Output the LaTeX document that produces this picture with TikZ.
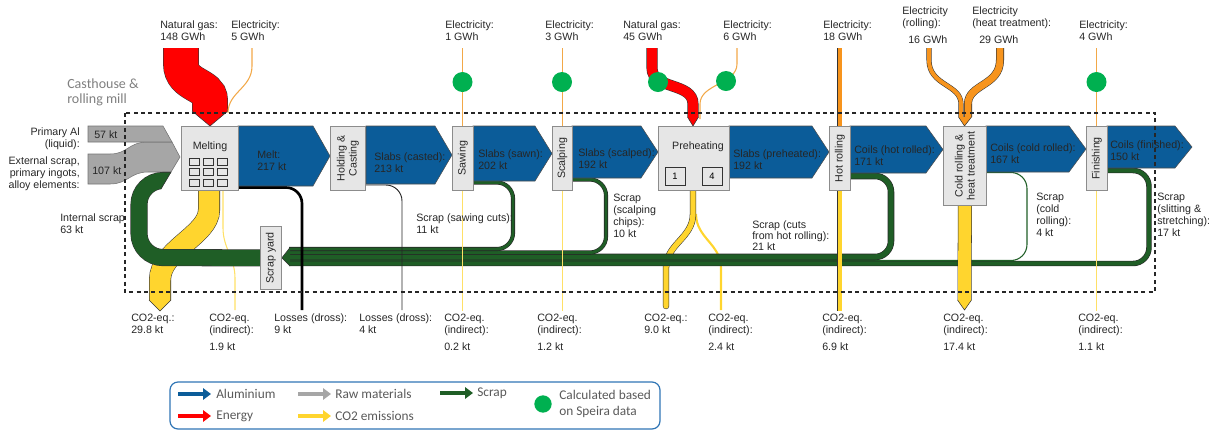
\documentclass[tikz,border=0pt]{standalone}
\usepackage{fontspec}
\setmainfont{Liberation Sans}
\newfontfamily\legfont{Carlito}
\usepackage{tikz}
\usetikzlibrary{arrows.meta}
\definecolor{alublue}{HTML}{0B5C99}
\definecolor{rawgray}{HTML}{A6A6A6}
\definecolor{scrapgreen}{HTML}{1F5E26}
\definecolor{energyred}{HTML}{FF0000}
\definecolor{elorange}{HTML}{F7941D}
\definecolor{elthinc}{HTML}{F2A848}
\definecolor{co2yellow}{HTML}{FFD52E}
\definecolor{co2thinc}{HTML}{FFE066}
\definecolor{dotgreen}{HTML}{00B050}
\definecolor{boxfill}{HTML}{E6E6E6}
\definecolor{boxline}{HTML}{8C8C8C}
\definecolor{legblue}{HTML}{2F75B5}
\definecolor{legtext}{HTML}{595959}
\definecolor{casttext}{HTML}{7F7F7F}
\pgfdeclarelayer{bg}
\pgfsetlayers{bg,main}
\newcommand{\lbf}{\fontsize{8}{9}\selectfont}
\newcommand{\alarrow}[3]{\filldraw[alu] (#1,126) -- (#2-17,126) -- (#2,126+#3/2) -- (#2-17,126+#3) -- (#1,126+#3) -- cycle;}
\newcommand{\indlbl}[3]{\node[lbl] (#1a) at (#2,313.5) {CO2-eq.\\(indirect):};
  \node[lbl] (#1b) at (#2,342.5) {#3};}

\begin{document}
\begin{tikzpicture}[x=0.75pt,y=-0.75pt,
  proc/.style={draw=boxline, fill=boxfill, line width=0.6pt, inner sep=0pt, anchor=north west},
  lbl/.style={font=\lbf, text=black!85, align=left, inner sep=0pt, anchor=north west},
  boxtxt/.style={font=\lbf, text=black!85, align=center, inner sep=0pt},
  alu/.style={fill=alublue, draw=black!70, line width=0.4pt},
  raw/.style={fill=rawgray, draw=black!55, line width=0.4pt},
  flow/.style={draw=black!80, line width=0.4pt, double=#1},
  scrap/.style={draw=black!85, line width=0.45pt, double=scrapgreen, rounded corners=12pt},
  edge/.style={draw=black!80, line width=0.4pt},
  elthin/.style={elthinc, line width=0.8pt},
  co2thin/.style={co2thinc, line width=0.8pt},
  legarr/.style={line width=3pt, -{Triangle[length=6pt,width=8.5pt]}},
  legtxt/.style={font=\legfont\fontsize{10}{12}\selectfont, text=legtext, inner sep=0pt}]
\useasboundingbox (0,0) rectangle (1215,430);

% process boxes
\node[proc, minimum width=42.75pt, minimum height=48pt] (melt) at (181,126) {};
\node[proc, minimum width=26.25pt, minimum height=48pt] (hold) at (330,126) {};
\node[proc, minimum width=15.75pt, minimum height=48pt] (saw) at (452,126) {};
\node[proc, minimum width=15pt, minimum height=48pt] (scalp) at (552,126) {};
\node[proc, minimum width=53.25pt, minimum height=48pt] (preh) at (658,126) {};
\node[proc, minimum width=15.75pt, minimum height=48pt] (hot) at (829,126) {};
\node[proc, minimum width=32.25pt, minimum height=59.25pt] (cold) at (943,126) {};
\node[proc, minimum width=15.75pt, minimum height=48pt] (fin) at (1086,126) {};
\node[proc, minimum width=15.75pt, minimum height=47.25pt] (yard) at (260,226) {};

\node[boxtxt] (tMelt) at (210,147) {Melting};
\foreach \i in {0,1,2} \foreach \j in {0,1,2}
  \draw[black!80, line width=0.5pt] (189+14*\i,158+10.5*\j) rectangle ++(10,7);
\node[boxtxt, rotate=90] (tHold) at (hold.center) {Holding \&\\Casting};
\node[boxtxt, rotate=90] (tSaw) at (saw.center) {Sawing};
\node[boxtxt, rotate=90] (tScalp) at (scalp.center) {Scalping};
\node[boxtxt] (tPreh) at (698,147) {Preheating};
\node[draw=black!80, fill=boxfill, minimum width=15pt, minimum height=13.5pt, inner sep=0pt, font=\fontsize{7}{8}\selectfont] (ph1) at (675,176) {1};
\node[draw=black!80, fill=boxfill, minimum width=15pt, minimum height=13.5pt, inner sep=0pt, font=\fontsize{7}{8}\selectfont] (ph4) at (712,176) {4};
\node[boxtxt, rotate=90] (tHot) at (hot.center) {Hot rolling};
\node[boxtxt, rotate=90] (tCold) at (cold.center) {Cold rolling \&\\heat treatment};
\node[boxtxt, rotate=90] (tFin) at (fin.center) {Finishing};
\node[boxtxt, rotate=90] (tYard) at (yard.center) {Scrap yard};

\begin{pgfonlayer}{bg}
% CO2 flows
\draw[flow=co2yellow, double distance=15.7pt] (209,190) -- (209,210) .. controls (209,235) and (160,250) .. (160,280) -- (160,300);
\fill[co2yellow] (149,300) -- (160,311) -- (171,300) -- cycle;
\draw[edge] (149,300) -- (160,311) -- (171,300);
\draw[co2thin] (223,190) -- (223,228) .. controls (223,248) and (235,258) .. (235,278) -- (235,310);
\draw[co2yellow, line width=1.6pt] (696,214) .. controls (696,238) and (721,244) .. (721,268) -- (721,310);
\draw[flow=co2yellow, double distance=4pt, line cap=round] (693,190) -- (693,214) .. controls (693,238) and (666,244) .. (666,268) -- (666,306);

% raw materials
\filldraw[raw] (88,154) -- (110,154) .. controls (128,154) and (128,142) .. (148,142) -- (172,142) -- (180,157) -- (171,172) -- (148,172) .. controls (130,172) and (128,184) .. (110,184) -- (88,184) -- cycle;
\filldraw[raw] (88,126) -- (163,126) -- (172,142) -- (88,142) -- cycle;

% internal scrap
\begin{scope}
  \clip (0,100) -- (168,100) -- (180,157) -- (161,189) -- (161,205) -- (420,205) -- (420,430) -- (0,430) -- cycle;
  \draw[flow=scrapgreen, double distance=12pt, rounded corners=18pt] (yard.west) -- (139,257.5) -- (139,180.5) -- (178,180.5);
\end{scope}
\draw[edge] (171.1,172) -- (161,189);

% scrap returns
\draw[scrap, double distance=3.2pt] (1107,170.5) -- (1149,170.5) -- (1149,263.5) -- (289,263.5);
\draw[scrapgreen, line width=0.8pt, rounded corners=12pt] (986,172.5) -- (1027,172.5) -- (1027,260.5) -- (289,260.5);
\draw[scrap, double distance=4pt] (850,176) -- (891,176) -- (891,257) -- (289,257);
\draw[scrap, double distance=2.2pt] (572,179.5) -- (606,179.5) -- (606,252.5) -- (289,252.5);
\draw[scrap, double distance=2.2pt] (473,182.5) -- (513,182.5) -- (513,249) -- (289,249);
\fill[scrapgreen] (290,247.5) -- (yard.east) -- (290,266) -- cycle;
\draw[edge] (290,247.5) -- (yard.east) -- (290,266);

% thin and single CO2 lines
\draw[co2thin] (saw.south) -- ++(0,120);
\draw[co2thin] (scalp.south) -- ++(0,120);
\draw[co2thin] (fin.south) -- ++(0,120);
\draw[flow=co2yellow, double distance=3pt] (hot.south) -- ++(0,120);
\draw[flow=co2yellow, double distance=9.7pt] (cold.south) -- (964.5,300);
\fill[co2yellow] (957.5,300) -- (964.5,310) -- (971.5,300) -- cycle;
\draw[edge] (957.5,300) -- (964.5,310) -- (971.5,300);

% losses
\draw[black, line width=2pt, rounded corners=12pt] (238,187.5) -- (302,187.5) -- (302,310);
\draw[black!85, line width=0.7pt, rounded corners=12pt] (366,185) -- (402,185) -- (402,310);

% aluminium
\alarrow{238}{330}{60}
\alarrow{366}{452}{58}
\alarrow{473}{552}{55}
\alarrow{572}{658}{52}
\alarrow{729}{829}{52}
\alarrow{850}{943}{47}
\alarrow{986}{1086}{46}
\alarrow{1107}{1192}{42}

% energy
\draw[flow=energyred, double distance=26pt] (181,48) -- (181,64) .. controls (181,86) and (210,84) .. (210,100) -- (210,111);
\fill[energyred] (192.1,111) -- (210,126) -- (227.9,111) -- cycle;
\draw[edge] (192.1,111) -- (210,126) -- (227.9,111);
\draw[elthin] (252,48) -- (252,66) .. controls (252,88) and (228,92) .. (228,113);
\draw[elthin] (737,48) -- (737,64) .. controls (737,84) and (700,84) .. (700,104) -- (700,119);
\draw[flow=energyred, double distance=7.5pt] (652,48) -- (652,68) .. controls (652,90) and (693,82) .. (693,104) -- (693,117);
\fill[energyred] (687.5,117) -- (693,126) -- (698.5,117) -- cycle;
\draw[edge] (687.5,117) -- (693,126) -- (698.5,117);
\draw[flow=elorange, double distance=3pt] (hot.north) -- ++(0,-78);
\draw[flow=elorange, double distance=3pt] (929,48) -- (929,60) .. controls (929,86) and (961,84) .. (961,104) -- (961,117);
\draw[flow=elorange, double distance=5.2pt] (1000,48) -- (1000,60) .. controls (1000,86) and (968,84) .. (968,104) -- (968,117);
\fill[elorange] (958.5,117) -- (964.5,126) -- (971.5,117) -- cycle;
\draw[edge] (958.5,117) -- (964.5,126) -- (971.5,117);
\draw[elthin] (saw.north) -- ++(0,-78);
\draw[elthin] (scalp.north) -- ++(0,-78);
\draw[elthin] (fin.north) -- ++(0,-78);
\fill[dotgreen] (462.5,82) circle (7.5pt);
\fill[dotgreen] (562,82) circle (7.5pt);
\fill[dotgreen] (658,82) circle (7.5pt);
\fill[dotgreen] (726,81) circle (7.5pt);
\fill[dotgreen] (1096.5,82) circle (7.5pt);
\end{pgfonlayer}

% labels on top
\node[lbl] (lNg1) at (160,20.5) {Natural gas:\\148 GWh};
\node[lbl] (lEl1) at (231,20.5) {Electricity:\\5 GWh};
\node[lbl] (lEl2) at (445,20.5) {Electricity:\\1 GWh};
\node[lbl] (lEl3) at (545,20.5) {Electricity:\\3 GWh};
\node[lbl] (lNg2) at (623,20.5) {Natural gas:\\45 GWh};
\node[lbl] (lEl4) at (723,20.5) {Electricity:\\6 GWh};
\node[lbl] (lEl5) at (823,20.5) {Electricity:\\18 GWh};
\node[lbl] (lEl6) at (902,6.5) {Electricity\\(rolling):};
\node[lbl] (lEl6v) at (908,35.5) {16 GWh};
\node[lbl] (lEl7) at (972,6.5) {Electricity\\(heat treatment):};
\node[lbl] (lEl7v) at (979,35.5) {29 GWh};
\node[lbl] (lEl8) at (1079,20.5) {Electricity:\\4 GWh};

\node[font=\legfont\fontsize{10.5}{11.25}\selectfont, text=casttext, align=left, anchor=north west, inner sep=0pt] (tCast) at (67,78.5) {Casthouse \&\\rolling mill};

% inputs
\node[lbl, anchor=north east, align=right] (lPrim) at (80,127.5) {Primary Al\\(liquid):};
\node[lbl, anchor=north east, align=right] (lExt) at (80,156.5) {External scrap,\\primary ingots,\\alloy elements:};
\node[lbl, anchor=west] (lPrimv) at (94,134.5) {57 kt};
\node[lbl, anchor=west] (lExtv) at (92,171) {107 kt};
\node[lbl] (lInt) at (60,213.5) {Internal scrap\\63 kt};

% aluminium labels
\node[lbl] (lMelt) at (257,150.5) {Melt:\\217 kt};
\node[lbl] (lCast) at (374,152.5) {Slabs (casted):\\213 kt};
\node[lbl] (lSawn) at (478,149.5) {Slabs (sawn):\\202 kt};
\node[lbl] (lScal) at (578,148.5) {Slabs (scalped):\\192 kt};
\node[lbl] (lPreh) at (733,149.5) {Slabs (preheated):\\192 kt};
\node[lbl] (lHot) at (854,145.5) {Coils (hot rolled):\\171 kt};
\node[lbl] (lCold) at (990,143.5) {Coils (cold rolled):\\167 kt};
\node[lbl] (lFin) at (1110,140.5) {Coils (finished):\\150 kt};

% scrap labels
\node[lbl] (sSaw) at (416,213.5) {Scrap (sawing cuts):\\11 kt};
\node[lbl] (sScal) at (613,193.5) {Scrap\\(scalping\\chips):\\10 kt};
\node[lbl, font=\fontsize{8}{8.25}\selectfont] (sHot) at (752,220.5) {Scrap (cuts\\from hot rolling):\\21 kt};
\node[lbl] (sCold) at (1036,192.5) {Scrap\\(cold\\rolling):\\4 kt};
\node[lbl] (sSlit) at (1157,192.5) {Scrap\\(slitting \&\\stretching):\\17 kt};

% outputs
\node[lbl] (oMelt) at (131,313.5) {CO2-eq.:\\29.8 kt};
\indlbl{oMeltI}{209}{1.9 kt}
\node[lbl] (oLoss1) at (274,313.5) {Losses (dross):\\9 kt};
\node[lbl] (oLoss2) at (359,313.5) {Losses (dross):\\4 kt};
\indlbl{oSaw}{444}{0.2 kt}
\indlbl{oScal}{537}{1.2 kt}
\node[lbl] (oPreh) at (644,313.5) {CO2-eq.:\\9.0 kt};
\indlbl{oPrehI}{708}{2.4 kt}
\indlbl{oHot}{822}{6.9 kt}
\indlbl{oCold}{943}{17.4 kt}
\indlbl{oFin}{1078}{1.1 kt}

% system boundary
\draw[black!85, line width=0.8pt, dash pattern=on 3pt off 2.5pt] (125,113) rectangle (1155,292);

% legend
\draw[legblue, line width=0.9pt, rounded corners=6pt] (170,382) rectangle (660,429);
\draw[legarr, alublue] (178,394) -- (211,394);
\draw[legarr, energyred] (178,416) -- (211,416);
\draw[legarr, rawgray] (298,394) -- (331,394);
\draw[legarr, co2yellow] (298,416) -- (331,416);
\draw[legarr, scrapgreen] (440,393) -- (473,393);
\fill[dotgreen] (543,404) circle (6.5pt);
\node[legtxt, anchor=west] (gAlu) at (216,394) {Aluminium};
\node[legtxt, anchor=west] (gEn) at (216,416) {Energy};
\node[legtxt, anchor=west] (gRaw) at (335,394) {Raw materials};
\node[legtxt, anchor=west] (gCo2) at (335,416) {CO2 emissions};
\node[legtxt, anchor=west] (gScr) at (477,393) {Scrap};
\node[legtxt, align=left, anchor=west] (gDot) at (559,404) {Calculated based\\on Speira data};
\end{tikzpicture}
\end{document}
